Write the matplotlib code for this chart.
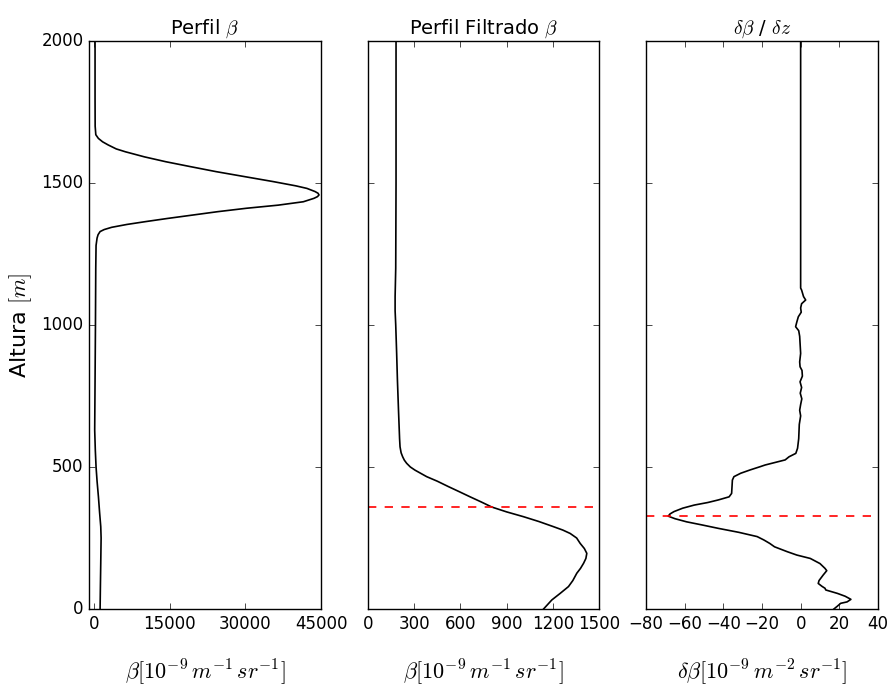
import matplotlib
matplotlib.use("Agg")
import matplotlib.pyplot as plt

# perfil beta (altura m, valor 1e-9 m-1 sr-1)
alt_raw = [2000, 1800, 1700, 1670, 1657, 1645, 1634, 1620, 1610, 1592, 1575, 1558,
           1540, 1522, 1505, 1490, 1481, 1470, 1464, 1458, 1452, 1446, 1434, 1422, 1411, 1399,
           1387, 1375, 1364, 1354, 1344, 1336, 1329, 1318, 1306, 1280, 1200, 1000,
           800, 630, 560, 500, 450, 395, 340, 290, 250, 162, 80, 0]
beta_raw = [200, 200, 220, 350, 860, 1700, 2800, 4400, 6200, 10000, 14200, 19000,
            24200, 30000, 35500, 40000, 42200, 43800, 44400, 44600, 44300, 43600, 41500, 36500, 30200, 24500,
            19500, 14500, 10200, 6500, 3500, 2000, 1200, 800, 600, 400, 340, 280,
            200, 130, 250, 400, 600, 870, 1100, 1330, 1400, 1330, 1260, 1200]

# perfil filtrado
alt_filt = [2000, 1500, 1200, 1100, 1050, 1000, 900, 806, 700, 600, 571, 550,
            536, 524, 513, 500, 489, 466, 450, 431, 413, 395, 377, 359,
            342, 325, 308, 290, 278, 266, 250, 231, 213, 196, 178, 161,
            143, 126, 100, 79, 55, 32, 0]
beta_filt = [182, 182, 180, 176, 176, 180, 186, 191, 198, 205, 208, 215,
             225, 236, 251, 275, 305, 381, 450, 522, 593, 663, 735, 804,
             900, 1010, 1110, 1204, 1265, 1313, 1355, 1378, 1405, 1421, 1415, 1400,
             1380, 1356, 1330, 1302, 1248, 1194, 1140]

# derivada
alt_der = [2000, 1130, 1123, 1100, 1088, 1075, 1060, 1045, 1029, 1010, 994, 980,
           960, 936, 900, 870, 853, 840, 820, 800, 780, 760, 740, 720,
           700, 680, 650, 600, 566, 548, 536, 525, 507, 501, 490, 478,
           466, 454, 430, 407, 395, 384, 375, 366, 355, 343, 335, 327,
           318, 307, 296, 284, 270, 255, 243, 231, 219, 202, 190, 178,
           160, 143, 135, 120, 100, 90, 80, 73, 67, 55, 45, 34,
           25, 20, 10, 0]
dbeta = [0, 0, 0.5, 1.5, 2.6, 0.5, 0, 0.3, -1.2, -2, -2.6, -1,
         -0.5, -0.3, 0, -0.5, -0.3, 0.7, 0.9, -0.3, 0.5, -0.2, 0.6, 0,
         -0.5, 0, -0.7, -1.0, -1.6, -2.5, -6, -8, -18.4, -21, -26, -31,
         -34.5, -35.3, -35.5, -35.7, -37, -42.6, -48, -55, -61, -65.5, -67.5, -68.5,
         -65, -59, -51, -42.6, -32, -22.5, -19, -16, -13.5, -7, -2, 5,
         10, 12.6, 13.5, 11.7, 9.5, 9.1, 11, 12.6, 13, 19, 23, 26,
         24, 20.7, 19, 17.2]

h_filt = 360  # altura marcada en el perfil filtrado
h_der = 327   # minimo de la derivada

plt.style.use("classic")
plt.rcParams["savefig.facecolor"] = "white"
plt.rcParams["figure.facecolor"] = "white"

fig = plt.figure(figsize=(8.9, 6.89), dpi=100)
ax1 = fig.add_axes([0.1, 0.1161, 0.2607, 0.8244])
ax2 = fig.add_axes([0.4135, 0.1161, 0.2595, 0.8244], sharey=ax1)
ax3 = fig.add_axes([0.7258, 0.1161, 0.2607, 0.8244], sharey=ax1)

xlab = r"$\beta[10^{-9}\,m^{-1}\,sr^{-1}]$"

ax1.plot(beta_raw, alt_raw, color="k", lw=1.2)
ax1.set_xlim(-1000, 45000)
ax1.set_xticks([0, 15000, 30000, 45000])
ax1.set_ylim(0, 2000)
ax1.set_yticks([0, 500, 1000, 1500, 2000])
ax1.set_title(r"Perfil $\beta$", fontsize=14)
ax1.set_xlabel(xlab, fontsize=16, labelpad=18)
ax1.set_ylabel(r"Altura $[m]$", fontsize=16)

ax2.plot(beta_filt, alt_filt, color="k", lw=1.2)
ax2.axhline(h_filt, color="r", ls="--", lw=1.2)
ax2.set_xlim(0, 1500)
ax2.set_xticks([0, 300, 600, 900, 1200, 1500])
ax2.set_title(r"Perfil Filtrado $\beta$", fontsize=14)
ax2.set_xlabel(xlab, fontsize=16, labelpad=18)

ax3.plot(dbeta, alt_der, color="k", lw=1.2)
ax3.axhline(h_der, color="r", ls="--", lw=1.2)
ax3.set_xlim(-80, 40)
ax3.set_xticks([-80, -60, -40, -20, 0, 20, 40])
ax3.set_title(r"$\delta\beta$ / $\delta z$", fontsize=14)
ax3.set_xlabel(r"$\delta\beta[10^{-9}\,m^{-2}\,sr^{-1}]$", fontsize=16, labelpad=18)

for ax in (ax2, ax3):
    plt.setp(ax.get_yticklabels(), visible=False)
for ax in (ax1, ax2, ax3):
    ax.tick_params(labelsize=12)

fig.savefig("out.png", dpi=100)
